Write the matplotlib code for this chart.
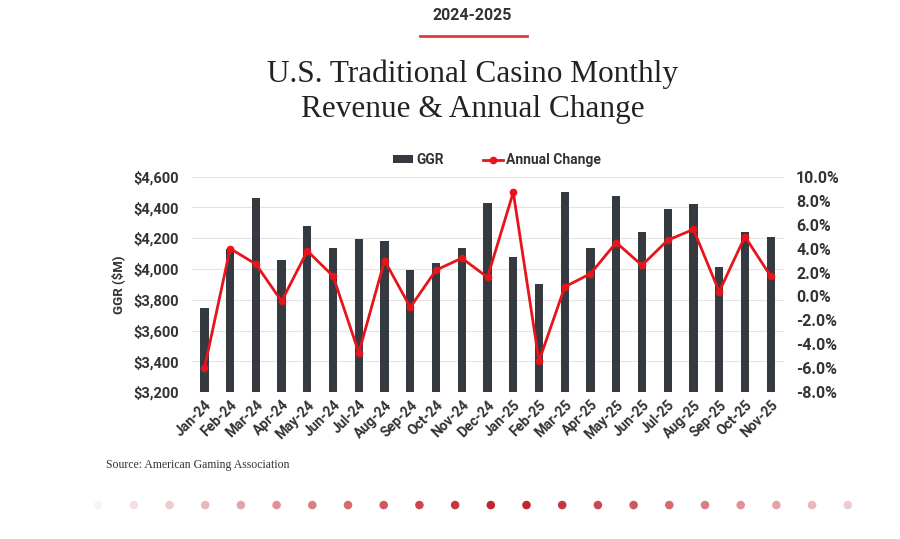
import matplotlib.pyplot as plt
import numpy as np
from matplotlib.ticker import FuncFormatter

months = ["Jan-24", "Feb-24", "Mar-24", "Apr-24", "May-24", "Jun-24", "Jul-24",
          "Aug-24", "Sep-24", "Oct-24", "Nov-24", "Dec-24", "Jan-25", "Feb-25",
          "Mar-25", "Apr-25", "May-25", "Jun-25", "Jul-25", "Aug-25", "Sep-25",
          "Oct-25", "Nov-25"]
ggr = [3750, 4130, 4464, 4061, 4282, 4135, 4196, 4183, 3997, 4038, 4135,
       4427, 4077, 3904, 4499, 4135, 4477, 4243, 4392, 4421, 4012, 4239, 4207]
annual_change = [-6.0, 4.0, 2.7, -0.4, 3.8, 1.7, -4.7, 3.0, -0.9, 2.2, 3.2,
                 1.6, 8.7, -5.4, 0.8, 1.9, 4.5, 2.6, 4.7, 5.6, 0.4, 5.0, 1.7]

cond = ['Roboto', 'DejaVu Sans']
serif = ['Liberation Serif', 'DejaVu Serif']
txt = '#333333'
bar_col = '#343a40'
red = '#e8141b'

fig = plt.figure(figsize=(9, 5.39), dpi=100)
ax = fig.add_axes([0.2128, 0.2722, 0.6578, 0.4])
x = np.arange(len(months))

ax.bar(x, ggr, width=0.32, color=bar_col, label='GGR', zorder=2)
ax.set_ylim(3200, 4600)
ax.set_yticks(np.arange(3200, 4601, 200))
ax.yaxis.set_major_formatter(FuncFormatter(lambda v, p: f"${v:,.0f}"))
ax.set_xlim(-0.5, len(months) - 0.5)
ax.set_xticks(x)
ax.set_xticklabels(months, rotation=45, ha='right', rotation_mode='anchor')
ax.grid(axis='y', color='#e4e4e4', linewidth=0.8, zorder=0)
ax.set_axisbelow(True)
ax.set_ylabel('GGR ($M)', fontsize=9.5, fontweight='bold', color=txt,
              family=cond, labelpad=6)

ax2 = ax.twinx()
ax2.plot(x, annual_change, color=red, linewidth=2, marker='o', markersize=4.5,
         label='Annual Change', zorder=3)
ax2.set_ylim(-8, 10)
ax2.set_yticks(np.arange(-8, 10.1, 2))
ax2.yaxis.set_major_formatter(FuncFormatter(lambda v, p: f"{v:.1f}%"))

for a in (ax, ax2):
    for s in a.spines.values():
        s.set_visible(False)
    a.tick_params(length=0, colors=txt)
    for lab in a.get_yticklabels() + a.get_xticklabels():
        lab.set_fontfamily(cond)
        lab.set_fontweight('bold')
        lab.set_fontsize(10.5)
ax.tick_params(axis='y', pad=9)
ax.tick_params(axis='x', pad=4)
ax2.tick_params(axis='y', pad=9)
for lab in ax.get_xticklabels():
    lab.set_fontsize(10)
for lab in ax2.get_yticklabels():
    lab.set_fontsize(11.5)

h1, l1 = ax.get_legend_handles_labels()
h2, l2 = ax2.get_legend_handles_labels()
leg = fig.legend(h1 + h2, l1 + l2, loc='center', bbox_to_anchor=(0.552, 0.703),
                 ncol=2, frameon=False, handlelength=1.45, handleheight=0.5,
                 columnspacing=2.8, handletextpad=0.25,
                 prop={'family': cond, 'weight': 'bold', 'size': 10})
for t in leg.get_texts():
    t.set_color(txt)

# header
fig.text(0.525, 0.972, '2024-2025', ha='center', va='center', fontsize=11.5,
         fontweight='bold', color=txt, family=cond)
fig.add_artist(plt.Line2D([0.467, 0.585], [0.933, 0.933], color='#e03a3e',
                          linewidth=2, transform=fig.transFigure))
fig.text(0.525, 0.862, 'U.S. Traditional Casino Monthly', ha='center',
         va='center', fontsize=22.5, color='#222222', family=serif)
fig.text(0.525, 0.797, 'Revenue & Annual Change', ha='center', va='center',
         fontsize=22.5, color='#222222', family=serif)
fig.text(0.118, 0.137, 'Source: American Gaming Association', ha='left',
         va='center', fontsize=8.5, color=txt, family=serif)

# decorative dot row
deco = fig.add_axes([0, 0, 1, 1], zorder=-1)
deco.set_xlim(0, 1)
deco.set_ylim(0, 1)
deco.axis('off')
dx = np.linspace(0.109, 0.942, 22)
dist = np.abs(np.arange(22) - 11.5) / 11.5
alphas = 1 - 0.95 * dist ** 1.1
deco.scatter(dx, np.full(22, 0.063), s=38, color='#bf2028', alpha=alphas,
             linewidths=0)

fig.savefig('out.png', dpi=100)
